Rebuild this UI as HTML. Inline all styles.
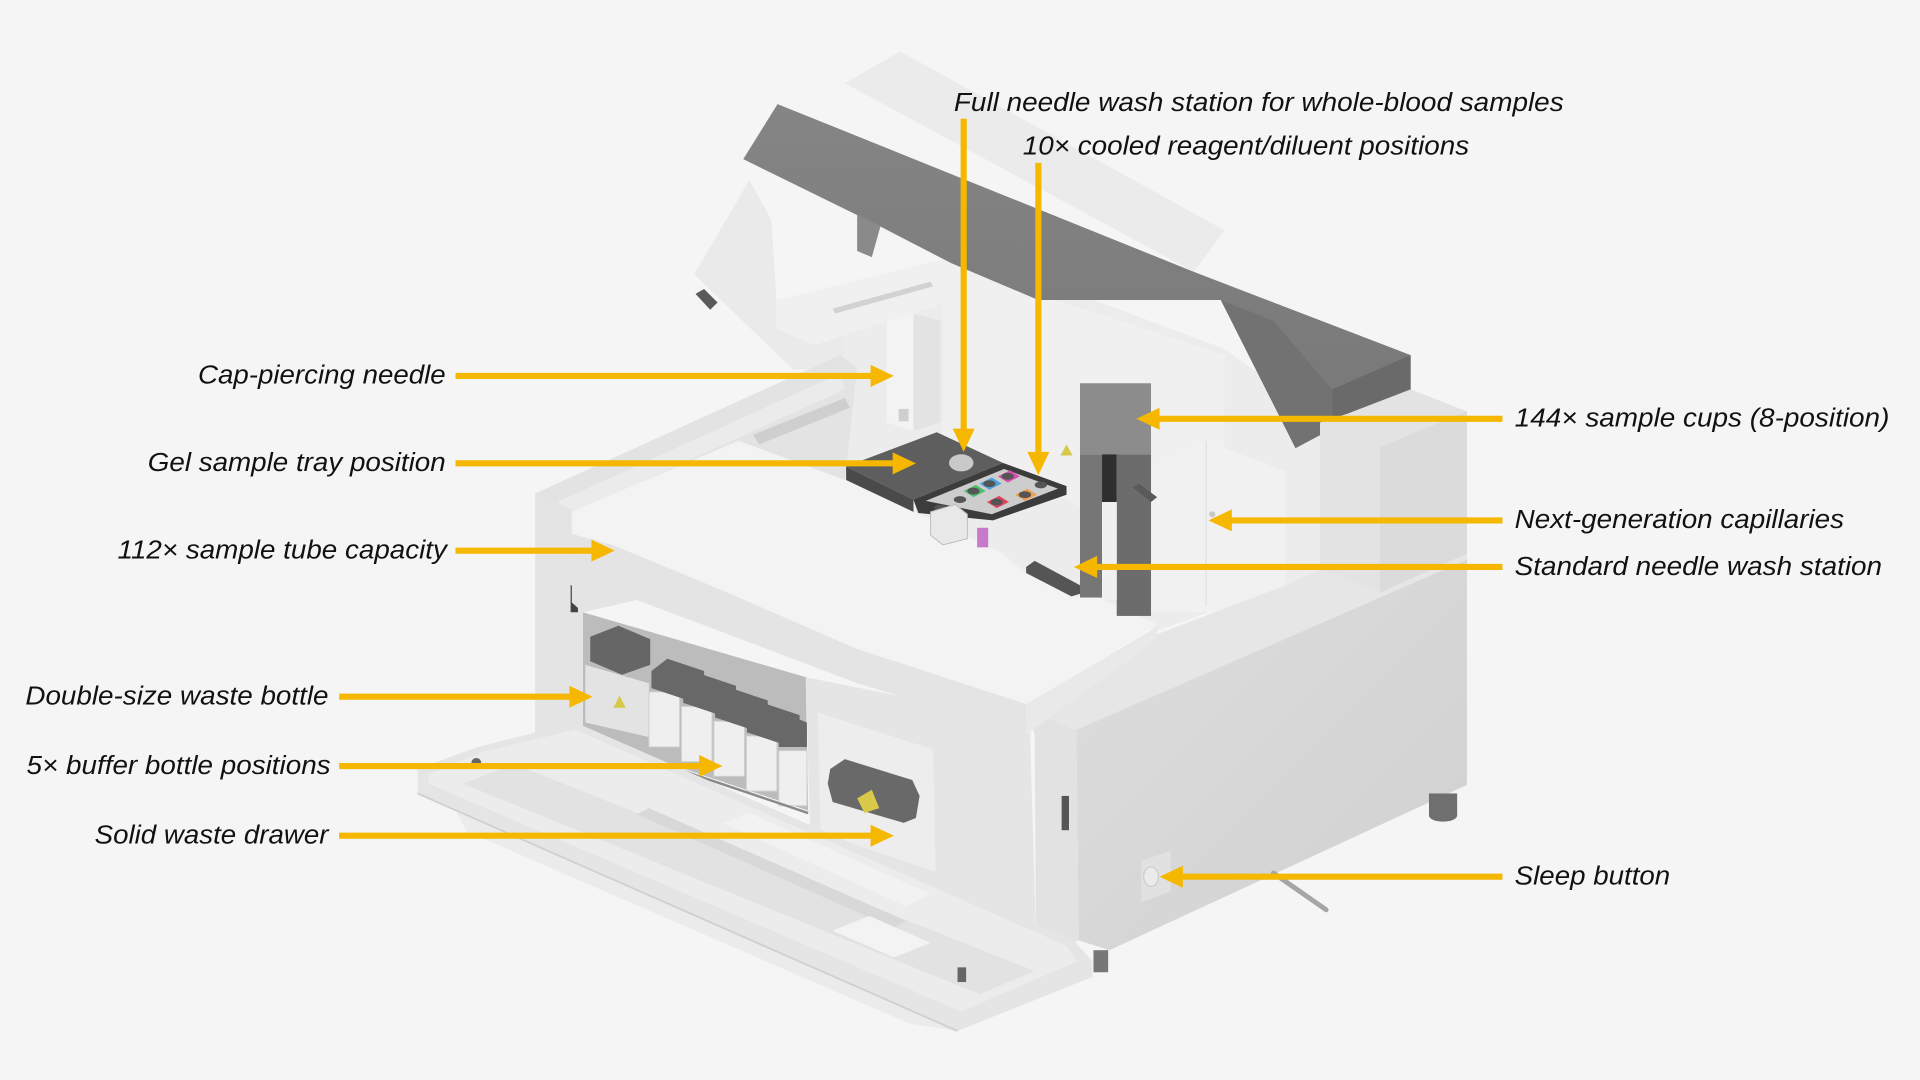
<!DOCTYPE html>
<html><head><meta charset="utf-8"><style>
html,body{margin:0;padding:0;background:#f5f5f5;}
svg{display:block;}
text{font-family:"Liberation Sans",Arial,sans-serif;font-style:italic;font-size:21.5px;fill:#111;}
</style></head><body>
<svg width="1920" height="1080" viewBox="0 0 1568 882" xmlns="http://www.w3.org/2000/svg">
<defs>
<linearGradient id="rf" x1="0" y1="0" x2="1" y2="1"><stop offset="0" stop-color="#dedede"/><stop offset="1" stop-color="#d0d0d0"/></linearGradient>
<linearGradient id="lid" x1="0" y1="0" x2="0" y2="1"><stop offset="0" stop-color="#858585"/><stop offset="1" stop-color="#777"/></linearGradient>
</defs>
<rect width="1568" height="882" fill="#f5f5f5"/>

<!-- glass panels -->
<polygon points="690,68 735,42 1000,188 975,222" fill="#ebebeb"/>
<polygon points="612,147 567,224 648,302 690,300 690,235 634,245 630,180" fill="#eaeaea"/>
<polygon points="568,240 575,236 586,247 580,253" fill="#5a5a5a"/>

<!-- interior back -->
<polygon points="640,330 690,300 690,235 800,210 1000,285 1078,340 1078,468 945,515 690,392 640,370" fill="#ececec"/>
<polygon points="770,215 1000,290 1000,470 770,360" fill="#f0f0f0"/>
<polygon points="940,380 985,360 1050,385 1050,478 1000,500 940,500" fill="#f1f1f1"/>
<line x1="985" y1="360" x2="985" y2="495" stroke="#e0e0e0" stroke-width="1"/>
<circle cx="990" cy="420" r="2.5" fill="#c8c8c8"/>

<!-- deck -->
<polygon points="437,403 686,290 700,300 690,392 603,360 467,418" fill="#e3e3e3"/>
<polygon points="455,410 686,305 690,318 470,418" fill="#ebebeb"/>
<polygon points="615,355 690,325 694,333 620,363" fill="#cfcfcf"/>

<!-- gantry arm & column -->
<polygon points="634,245 797,205 818,213 818,232 665,282 634,268" fill="#f0f0f0"/>
<polygon points="680,252 760,230 762,234 682,256" fill="#d2d2d2"/>
<polygon points="724,262 746,256 768,262 768,345 746,352 724,345" fill="#f3f3f3"/>
<polygon points="746,256 768,262 768,345 746,352" fill="#e3e3e3"/>
<rect x="734" y="334" width="8" height="10" fill="#cfcfcf"/>

<!-- dark lid -->
<polygon points="635,85 975,222 1152,290 1152,322 1088,350 1058,366 997,245 848,245 777,215 719,185 607,130" fill="url(#lid)"/>
<polygon points="1088,318 1152,290 1152,322 1088,350" fill="#6a6a6a"/>
<polygon points="997,245 1040,262 1088,318 1088,350 1058,366" fill="#727272"/>
<polygon points="700,175 719,185 712,210 700,205" fill="#8a8a8a"/>

<!-- tower -->
<polygon points="1078,345 1100,338 1152,318 1198,336 1198,455 1127,484 1078,465" fill="#e3e3e3"/>
<polygon points="1127,365 1198,336 1198,455 1127,484" fill="#dbdbdb"/>

<!-- right block top & right face -->
<polygon points="841,581 879,596 1198,457 1198,452 1127,484 1078,465 1050,478 945,518" fill="#e6e6e6"/>
<polygon points="879,596 1198,457 1198,641 906,776 881,768" fill="url(#rf)"/>
<polygon points="841,581 879,596 881,768 866,772 846,765 845,600" fill="#e2e2e2"/>
<rect x="867" y="650" width="6" height="28" fill="#555"/>

<!-- front middle panel -->
<polygon points="658,553 841,590 846,765 765,730 662,690" fill="#e5e5e5"/>
<polygon points="668,582 762,612 764,712 670,680" fill="#ededed"/>
<polygon points="678,628 690,620 745,637 751,650 748,668 738,672 680,655 676,640" fill="#696969"/>
<polygon points="700,652 712,645 718,660 706,664" fill="#d9c94a"/>

<!-- bottle compartment -->
<polygon points="476,500 658,553 660,662 476,600" fill="#bcbcbc"/>
<polygon points="478,543 530,558 530,602 478,590" fill="#e3e3e3"/>
<polygon points="482,520 505,511 531,522 531,543 508,551 482,540" fill="#666"/>
<polygon points="501,578 506,568 511,578" fill="#d6c84a"/>
<g fill="#efefef" stroke="#cfcfcf" stroke-width="0.8">
<rect x="530" y="565" width="25" height="45"/>
<rect x="556.5" y="577" width="25" height="45"/>
<rect x="583" y="589" width="25" height="45"/>
<rect x="609.5" y="601" width="25" height="45"/>
<rect x="636" y="613" width="23" height="45"/>
</g>
<g fill="#686868">
<polygon points="532,548 545,538 575,548 575,562 562,572 532,562"/>
<polygon points="558,560 571,550 601,560 601,574 588,584 558,574"/>
<polygon points="584,572 597,562 627,572 627,586 614,596 584,586"/>
<polygon points="610,584 623,574 653,584 653,598 640,608 610,598"/>
<polygon points="636,596 649,586 659,590 659,610 636,610"/>
</g>
<line x1="476" y1="602" x2="660" y2="664" stroke="#8a8a8a" stroke-width="2"/>

<!-- left strip -->
<polygon points="437,403 467,418 467,492 476,500 476,605 447,622 437,618" fill="#e4e4e4"/>
<rect x="466" y="478" width="6" height="22" fill="#444"/>

<!-- slab -->
<polygon points="467,418 603,360 690,392 945,510 838,575 700,530 580,478 500,445 467,436" fill="#f3f3f3"/>
<polygon points="467,436 500,445 580,478 700,530 838,575 838,600 700,558 600,520 520,490 476,500 467,492" fill="#e4e4e4"/>
<polygon points="838,575 945,512 945,522 838,600" fill="#e9e9e9"/>

<!-- gel tray & reagent -->
<polygon points="691,381 746,408 746,418 691,392" fill="#4a4a4a"/>
<polygon points="691,381 765,353 819,378 746,408" fill="#5e5e5e"/>
<ellipse cx="785" cy="378" rx="10" ry="7" fill="#c9c9c9"/>
<polygon points="746,408 819,378 871,397 871,404 811,425 750,419" fill="#3c3c3c"/>
<polygon points="756,409 820,383 864,399 810,420" fill="#cdcdcd"/>
<g>
<polygon points="815,389 825,384 833,389 823,394" fill="#d94fb0"/>
<polygon points="800,395 810,390 818,395 808,400" fill="#4aa3e0"/>
<polygon points="787,401 797,396 805,401 795,406" fill="#4cbf6a"/>
<polygon points="806,410 816,405 824,410 814,415" fill="#e0445c"/>
<polygon points="829,404 839,399 847,404 837,409" fill="#f0a050"/>
</g>
<g fill="#555">
<ellipse cx="823" cy="389" rx="5" ry="2.8"/><ellipse cx="808" cy="395" rx="5" ry="2.8"/>
<ellipse cx="795" cy="401" rx="5" ry="2.8"/><ellipse cx="814" cy="410" rx="5" ry="2.8"/>
<ellipse cx="837" cy="404" rx="5" ry="2.8"/><ellipse cx="768" cy="415" rx="5" ry="2.8"/>
<ellipse cx="784" cy="408" rx="5" ry="2.8"/><ellipse cx="850" cy="396" rx="5" ry="2.8"/>
</g>
<polygon points="760,418 780,412 790,420 790,440 770,445 760,437" fill="#e8e8e8" stroke="#bdbdbd" stroke-width="0.8"/>
<polygon points="810,445 875,425 880,455 840,470" fill="#ececec"/>
<rect x="798" y="431" width="9" height="16" fill="#c77ac9"/>
<polygon points="866,372 871,363 876,372" fill="#d6c84a"/>

<!-- standard wash -->
<polygon points="838,463 845,458 882,478 882,485 875,487 838,468" fill="#555"/>

<!-- post -->
<rect x="882" y="313" width="58" height="58" fill="#8c8c8c"/>
<rect x="882" y="371" width="18" height="117" fill="#767676"/>
<rect x="912" y="371" width="28" height="132" fill="#6c6c6c"/>
<rect x="900" y="371" width="12" height="39" fill="#2f2f2f"/>
<rect x="900" y="410" width="12" height="80" fill="#f0f0f0"/>
<polygon points="925,398 930,395 945,406 940,410" fill="#5a5a5a"/>

<!-- drawer door -->
<polygon points="370,658 743,822 782,842 743,836 381,679" fill="#ebebeb"/>
<polygon points="341,628 390,610 470,590 877,768 892,785 892,798 782,842 341,648" fill="#e5e5e5"/>
<polygon points="350,632 395,614 470,596 870,772 880,785 785,826 350,640" fill="#ececec"/>
<polygon points="378,640 420,624 845,793 800,812" fill="#e2e2e2"/>
<polygon points="520,665 530,660 740,752 730,758" fill="#d8d8d8"/>
<polygon points="590,672 612,664 760,730 740,740" fill="#f2f2f2"/>
<polygon points="680,760 710,748 760,770 730,782" fill="#f3f3f3"/>
<line x1="341" y1="648" x2="782" y2="842" stroke="#d0d0d0" stroke-width="1.5"/>
<circle cx="389" cy="623" r="4" fill="#666"/>
<rect x="782" y="790" width="7" height="12" fill="#666"/>

<!-- feet / sleep / cable -->
<rect x="1167" y="648" width="23" height="18" fill="#6f6f6f"/>
<ellipse cx="1178.5" cy="666" rx="11.5" ry="5" fill="#6f6f6f"/>
<rect x="893" y="776" width="12" height="18" fill="#777"/>
<polygon points="932,703 956,695 956,728 932,737" fill="#e1e1e1"/>
<ellipse cx="940" cy="716" rx="6" ry="8" fill="#ebebeb" stroke="#cdcdcd" stroke-width="1"/>
<line x1="1040" y1="713" x2="1083" y2="743" stroke="#a5a5a5" stroke-width="4" stroke-linecap="round"/>

<!-- arrows -->
<g stroke="#F5B700" stroke-width="5" fill="none">
<line x1="372" y1="307" x2="713" y2="307"/>
<line x1="372" y1="378.4" x2="731" y2="378.4"/>
<line x1="372" y1="449.7" x2="485" y2="449.7"/>
<line x1="277" y1="569" x2="467" y2="569"/>
<line x1="277" y1="625.6" x2="573" y2="625.6"/>
<line x1="277" y1="682.5" x2="713" y2="682.5"/>
<line x1="1227" y1="342" x2="945" y2="342"/>
<line x1="1227" y1="425" x2="1004" y2="425"/>
<line x1="1227" y1="463" x2="894" y2="463"/>
<line x1="1227" y1="716" x2="964" y2="716"/>
<line x1="787" y1="97" x2="787" y2="351"/>
<line x1="848" y1="133" x2="848" y2="370"/>
</g>
<g fill="#F5B700">
<polygon points="711,298 730,307 711,316"/>
<polygon points="729,369.4 748,378.4 729,387.4"/>
<polygon points="483,440.7 502,449.7 483,458.7"/>
<polygon points="465,560 484,569 465,578"/>
<polygon points="571,616.6 590,625.6 571,634.6"/>
<polygon points="711,673.5 730,682.5 711,691.5"/>
<polygon points="947,333 928,342 947,351"/>
<polygon points="1006,416 987,425 1006,434"/>
<polygon points="896,454 877,463 896,472"/>
<polygon points="966,707 947,716 966,725"/>
<polygon points="778,350 787,369 796,350"/>
<polygon points="839,369 848,388 857,369"/>
</g>

<!-- labels -->
<text x="779" y="90.5" textLength="498" lengthAdjust="spacingAndGlyphs">Full needle wash station for whole-blood samples</text>
<text x="835.3" y="126" textLength="364.5" lengthAdjust="spacingAndGlyphs">10× cooled reagent/diluent positions</text>
<text x="161.7" y="313.3" textLength="202.3" lengthAdjust="spacingAndGlyphs">Cap-piercing needle</text>
<text x="120.7" y="384.7" textLength="243.3" lengthAdjust="spacingAndGlyphs">Gel sample tray position</text>
<text x="96" y="456" textLength="269" lengthAdjust="spacingAndGlyphs">112× sample tube capacity</text>
<text x="20.7" y="575.3" textLength="247.6" lengthAdjust="spacingAndGlyphs">Double-size waste bottle</text>
<text x="21.7" y="632" textLength="248.3" lengthAdjust="spacingAndGlyphs">5× buffer bottle positions</text>
<text x="77.3" y="689" textLength="191" lengthAdjust="spacingAndGlyphs">Solid waste drawer</text>
<text x="1237" y="348.5" textLength="306" lengthAdjust="spacingAndGlyphs">144× sample cups (8-position)</text>
<text x="1237" y="431.3" textLength="269" lengthAdjust="spacingAndGlyphs">Next-generation capillaries</text>
<text x="1237" y="469.5" textLength="300" lengthAdjust="spacingAndGlyphs">Standard needle wash station</text>
<text x="1237" y="722.3" textLength="127" lengthAdjust="spacingAndGlyphs">Sleep button</text>
</svg>
</body></html>
